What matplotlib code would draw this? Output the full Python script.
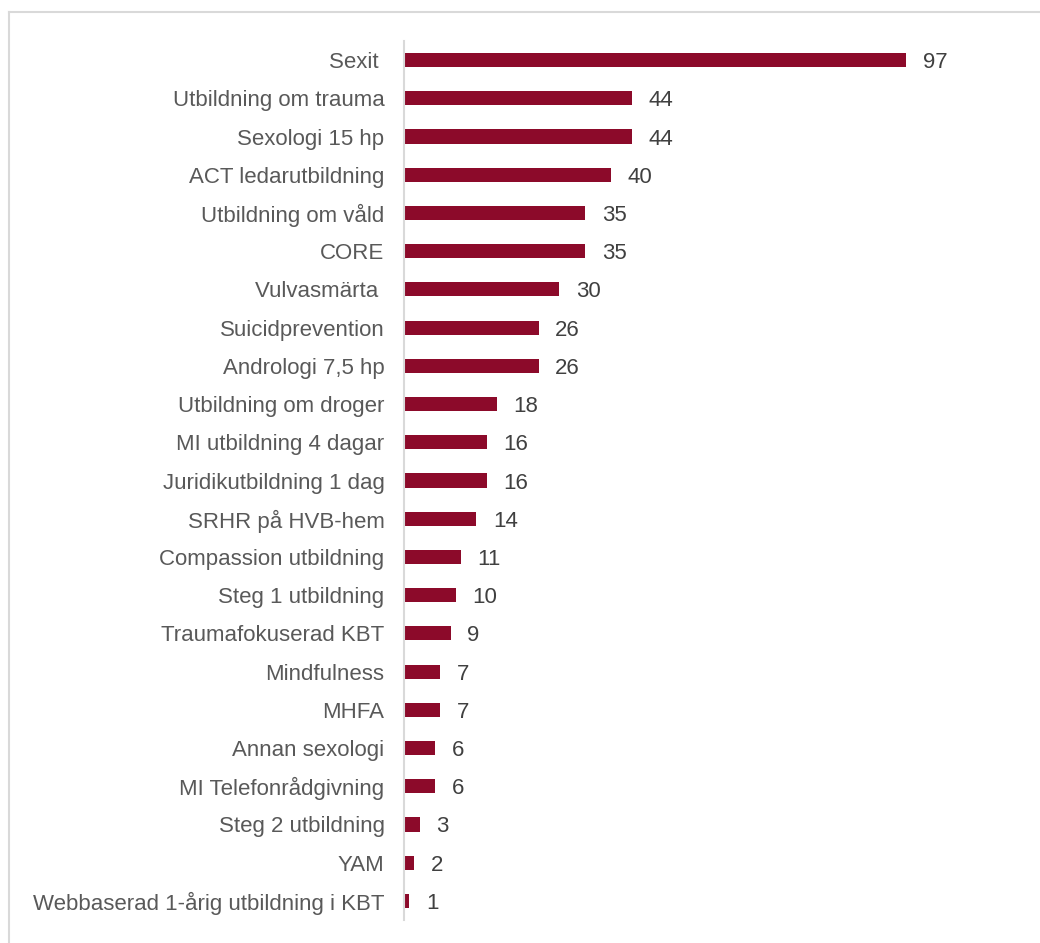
import matplotlib
matplotlib.use("Agg")
import matplotlib.pyplot as plt
from matplotlib.lines import Line2D

# Course names and number of participants
courses = [
    "Sexit ", "Utbildning om trauma", "Sexologi 15 hp", "ACT ledarutbildning",
    "Utbildning om våld", "CORE", "Vulvasmärta ", "Suicidprevention",
    "Andrologi 7,5 hp", "Utbildning om droger", "MI utbildning 4 dagar",
    "Juridikutbildning 1 dag", "SRHR på HVB-hem", "Compassion utbildning",
    "Steg 1 utbildning", "Traumafokuserad KBT", "Mindfulness", "MHFA",
    "Annan sexologi", "MI Telefonrådgivning", "Steg 2 utbildning", "YAM",
    "Webbaserad 1-årig utbildning i KBT",
]
counts = [97, 44, 44, 40, 35, 35, 30, 26, 26, 18, 16, 16, 14, 11, 10, 9, 7, 7, 6, 6, 3, 2, 1]

plt.rcParams["font.family"] = ["Liberation Sans", "DejaVu Sans"]

fig = plt.figure(figsize=(10.4, 9.43), dpi=100)
ax = fig.add_axes([0.3885, 0.0244, 0.5971, 0.9321])

pos = list(range(len(courses)))
ax.barh(pos, counts, height=0.37, color="#8C0A2A")

ax.set_ylim(len(courses) - 0.5, -0.5)
ax.set_xlim(0, 120)
ax.set_yticks(pos)
ax.set_yticklabels(courses, fontsize=16, color="#595959")
ax.tick_params(axis="y", length=0, pad=14)
ax.set_xticks([])

for p, v in zip(pos, counts):
    ax.text(v + 3.2, p, str(v), va="center_baseline", ha="left",
            fontsize=16, color="#404040")

for side in ["top", "right", "bottom"]:
    ax.spines[side].set_visible(False)
ax.spines["left"].set_color("#d9d9d9")
ax.spines["left"].set_linewidth(1.5)

# light frame around the chart area
fig.add_artist(Line2D([0.0082, 1.0], [0.9878, 0.9878], color="#d9d9d9", lw=1.5))
fig.add_artist(Line2D([0.0082, 0.0082], [0.0, 0.9878], color="#d9d9d9", lw=1.5))

fig.savefig("out.png", dpi=100)
